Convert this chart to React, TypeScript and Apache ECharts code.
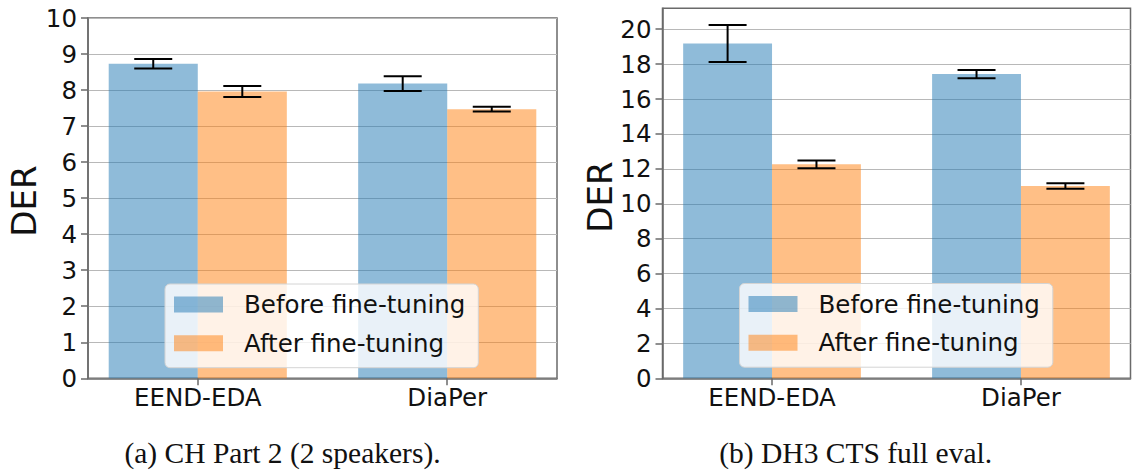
import React, { useEffect, useRef } from "react";
import * as echarts from "echarts";

// ---- data ----
const categories = ["EEND-EDA", "DiaPer"];
const seriesNames = ["Before fine-tuning", "After fine-tuning"];

// (a) CH Part 2 (2 speakers)
const chBefore = [8.73, 8.18];
const chBeforeErr = [0.135, 0.205];
const chAfter = [7.96, 7.47];
const chAfterErr = [0.15, 0.065];
const chYTicks = [0, 1, 2, 3, 4, 5, 6, 7, 8, 9, 10];

// (b) DH3 CTS full eval
const dhBefore = [19.18, 17.43];
const dhBeforeErr = [1.06, 0.24];
const dhAfter = [12.26, 11.02];
const dhAfterErr = [0.22, 0.16];
const dhYTicks = [0, 2, 4, 6, 8, 10, 12, 14, 16, 18, 20];

const captions = ["(a) CH Part 2 (2 speakers).", "(b) DH3 CTS full eval."];
const yName = "DER";

// ---- styles ----
const BAR_W = 0.357;
const X_MIN = -0.44;
const X_MAX = 1.44;
const BLUE = "rgba(31,119,180,0.5)";
const ORANGE = "rgba(255,127,14,0.5)";
const SPINE = "#6a6a6a";
const FONT = "DejaVu Sans";

function barSeries(name: string, values: number[], side: number, idx: number, color: string) {
  return {
    type: "custom",
    name,
    xAxisIndex: idx,
    yAxisIndex: idx,
    itemStyle: { color },
    data: values.map((v, i) => [i, v]),
    renderItem: (params: any, api: any) => {
      const x = api.value(0);
      const v = api.value(1);
      const xa = side < 0 ? x - BAR_W : x;
      const xb = side < 0 ? x : x + BAR_W;
      const p0 = api.coord([xa, 0]);
      const p1 = api.coord([xb, v]);
      return {
        type: "rect",
        shape: { x: p0[0], y: p1[1], width: p1[0] - p0[0], height: p0[1] - p1[1] },
        style: { fill: color },
      };
    },
    z: 2,
  };
}

function errSeries(values: number[], errs: number[], side: number, idx: number) {
  return {
    type: "custom",
    xAxisIndex: idx,
    yAxisIndex: idx,
    data: values.map((v, i) => [i + side * BAR_W / 2, v, errs[i]]),
    renderItem: (params: any, api: any) => {
      const x = api.value(0);
      const v = api.value(1);
      const e = api.value(2);
      const top = api.coord([x, v + e]);
      const bot = api.coord([x, v - e]);
      const cw = 19;
      const st = { stroke: "#000", lineWidth: 2 };
      return {
        type: "group",
        children: [
          { type: "line", shape: { x1: top[0], y1: top[1], x2: bot[0], y2: bot[1] }, style: st },
          { type: "line", shape: { x1: top[0] - cw, y1: top[1], x2: top[0] + cw, y2: top[1] }, style: st },
          { type: "line", shape: { x1: bot[0] - cw, y1: bot[1], x2: bot[0] + cw, y2: bot[1] }, style: st },
        ],
      };
    },
    z: 5,
  };
}

function xAxis(idx: number) {
  return {
    type: "value",
    gridIndex: idx,
    min: X_MIN,
    max: X_MAX,
    axisLine: { show: true, onZero: false, lineStyle: { color: SPINE, width: 1.5 } },
    axisTick: { show: true, length: 7, customValues: [0, 1], lineStyle: { color: SPINE, width: 1.5 } },
    axisLabel: {
      customValues: [0, 1],
      formatter: (v: number) => categories[Math.round(v)] ?? "",
      fontFamily: FONT,
      fontSize: 24.5,
      color: "#111",
      margin: 7,
    },
    splitLine: { show: false },
  };
}

function yAxis(idx: number, ticks: number[], max: number) {
  return {
    type: "value",
    gridIndex: idx,
    min: 0,
    max,
    interval: ticks[1] - ticks[0],
    axisLine: { show: true, onZero: false, lineStyle: { color: SPINE, width: 1.5 } },
    axisTick: { show: true, length: 7, customValues: ticks, lineStyle: { color: SPINE, width: 1.5 } },
    axisLabel: {
      customValues: ticks,
      fontFamily: FONT,
      fontSize: 24.5,
      color: "#111",
      margin: 11,
    },
    splitLine: { show: true, lineStyle: { color: "#b8b8b8", width: 1.2 } },
  };
}

function legend(left: number, top: number) {
  return {
    data: seriesNames,
    orient: "vertical",
    left,
    top,
    icon: "rect",
    itemWidth: 49,
    itemHeight: 16,
    itemGap: 13.7,
    padding: [8, 13, 12, 9],
    backgroundColor: "rgba(255,255,255,0.8)",
    borderColor: "#d4d4d4",
    borderWidth: 1,
    borderRadius: 5,
    selectedMode: false,
    textStyle: { fontFamily: FONT, fontSize: 24.5, color: "#111", lineHeight: 24, padding: [0, 0, 0, 16] },
  };
}

export default function App() {
  const ref = useRef<HTMLDivElement>(null);
  useEffect(() => {
    if (!ref.current) return;
    const chart = echarts.init(ref.current, null, { renderer: "svg" });
    const option: any = {
      animation: false,
      backgroundColor: "#fff",
      grid: [
        { left: 88, top: 18, width: 469, height: 360.3, show: true, borderColor: SPINE, borderWidth: 1.5, backgroundColor: "transparent" },
        { left: 662.5, top: 8.3, width: 468, height: 370, show: true, borderColor: SPINE, borderWidth: 1.5, backgroundColor: "transparent" },
      ],
      xAxis: [xAxis(0), xAxis(1)],
      yAxis: [yAxis(0, chYTicks, 10), yAxis(1, dhYTicks, 21.2)],
      legend: [legend(165, 284), legend(739.5, 283.5)],
      series: [
        barSeries(seriesNames[0], chBefore, -1, 0, BLUE),
        barSeries(seriesNames[1], chAfter, 1, 0, ORANGE),
        errSeries(chBefore, chBeforeErr, -1, 0),
        errSeries(chAfter, chAfterErr, 1, 0),
        barSeries(seriesNames[0], dhBefore, -1, 1, BLUE),
        barSeries(seriesNames[1], dhAfter, 1, 1, ORANGE),
        errSeries(dhBefore, dhBeforeErr, -1, 1),
        errSeries(dhAfter, dhAfterErr, 1, 1),
      ],
      graphic: [
        {
          type: "text", x: 24, y: 201, rotation: Math.PI / 2,
          style: { text: yName, fontFamily: FONT, fontSize: 34, fill: "#111", align: "center", verticalAlign: "middle" },
        },
        {
          type: "text", x: 600, y: 197, rotation: Math.PI / 2,
          style: { text: yName, fontFamily: FONT, fontSize: 34, fill: "#111", align: "center", verticalAlign: "middle" },
        },
        {
          type: "text", x: 282.5, y: 453,
          style: { text: captions[0], fontFamily: "Liberation Serif", fontSize: 29.5, fill: "#111", align: "center", verticalAlign: "middle" },
        },
        {
          type: "text", x: 855.7, y: 453,
          style: { text: captions[1], fontFamily: "Liberation Serif", fontSize: 29.5, fill: "#111", align: "center", verticalAlign: "middle" },
        },
      ],
    };
    chart.setOption(option);
    return () => chart.dispose();
  }, []);
  return <div ref={ref} style={{ position: "fixed", left: 0, top: 0, width: 1132, height: 470 }} />;
}
